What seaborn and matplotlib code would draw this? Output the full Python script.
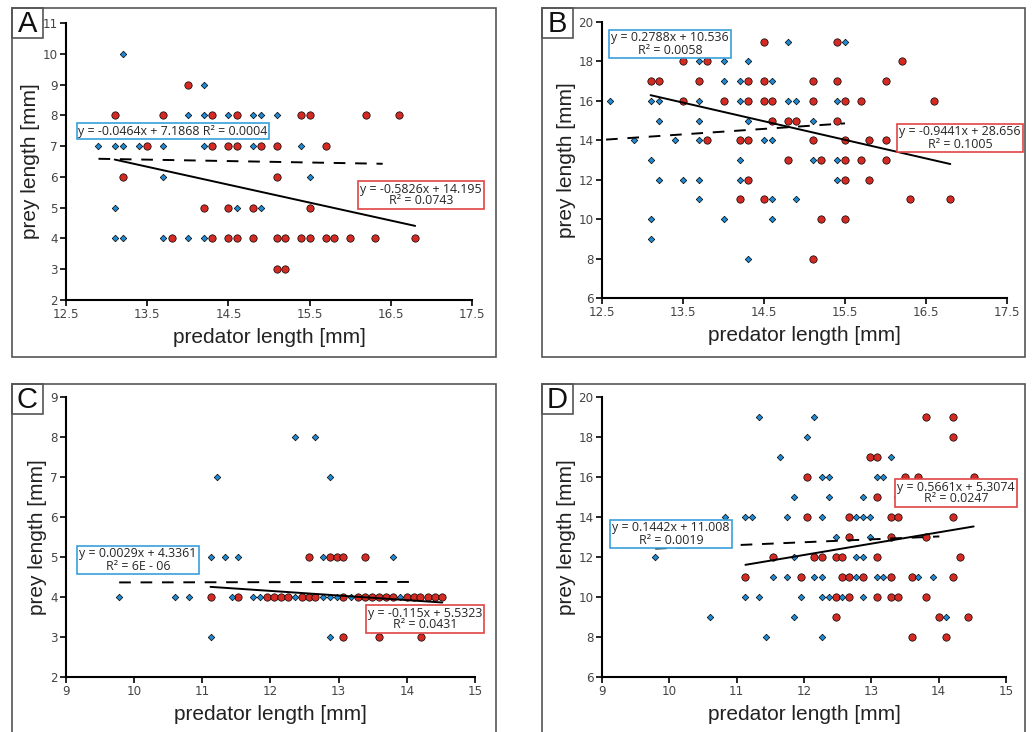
import numpy as np
import pandas as pd
import matplotlib
matplotlib.use("Agg")
import matplotlib.pyplot as plt
import seaborn as sns
from matplotlib.patches import Rectangle

# ==========================================
# 1. DONNEES
# ==========================================

# --- Panel A ---
a_blue_x = [13.2, 14.2,
            14.0, 14.2, 14.5, 14.8, 14.9, 15.1,
            12.9, 13.1, 13.2, 13.4, 13.7, 14.2, 14.8, 15.4,
            13.7, 15.5,
            13.1, 14.6, 14.9,
            13.1, 13.2, 13.7, 14.0, 14.2]
a_blue_y = [10, 9,
            8, 8, 8, 8, 8, 8,
            7, 7, 7, 7, 7, 7, 7, 7,
            6, 6,
            5, 5, 5,
            4, 4, 4, 4, 4]
a_red_x = [14.0,
           13.1, 13.7, 14.3, 14.6, 15.4, 15.5, 16.2, 16.6,
           13.5, 14.3, 14.5, 14.6, 14.9, 15.1, 15.7,
           13.2, 15.1,
           14.2, 14.5, 14.8, 15.5,
           13.8, 14.3, 14.5, 14.6, 14.8, 15.1, 15.2, 15.4, 15.5, 15.7, 15.8, 16.0, 16.3, 16.8,
           15.1, 15.2]
a_red_y = [9,
           8, 8, 8, 8, 8, 8, 8, 8,
           7, 7, 7, 7, 7, 7, 7,
           6, 6,
           5, 5, 5, 5,
           4, 4, 4, 4, 4, 4, 4, 4, 4, 4, 4, 4, 4, 4,
           3, 3]

# --- Panel B ---
b_blue_x = [14.8, 15.5,
            13.7, 14.0, 14.3,
            14.0, 14.2, 14.6,
            12.6, 13.1, 13.2, 13.7, 14.2, 14.8, 14.9, 15.4,
            13.2, 13.7, 14.3, 15.1,
            12.9, 13.4, 13.7, 14.5, 14.6,
            13.1, 14.2, 15.1, 15.4,
            13.2, 13.5, 13.7, 14.2, 15.4,
            13.7, 14.6, 14.9,
            13.1, 14.0, 14.6,
            13.1,
            14.3]
b_blue_y = [19, 19,
            18, 18, 18,
            17, 17, 17,
            16, 16, 16, 16, 16, 16, 16, 16,
            15, 15, 15, 15,
            14, 14, 14, 14, 14,
            13, 13, 13, 13,
            12, 12, 12, 12, 12,
            11, 11, 11,
            10, 10, 10,
            9,
            8]
b_red_x = [14.5, 15.4,
           13.5, 13.8, 16.2,
           13.1, 13.2, 13.7, 14.3, 14.5, 15.1, 15.4, 16.0,
           13.5, 14.0, 14.3, 14.5, 14.6, 15.1, 15.5, 15.7, 16.6,
           14.6, 14.8, 14.9, 15.4,
           13.8, 14.2, 14.3, 15.1, 15.5, 15.8, 16.0,
           14.8, 15.2, 15.5, 15.7, 16.0,
           14.3, 15.5, 15.8,
           14.2, 14.5, 16.3, 16.8,
           15.2, 15.5,
           15.1]
b_red_y = [19, 19,
           18, 18, 18,
           17, 17, 17, 17, 17, 17, 17, 17,
           16, 16, 16, 16, 16, 16, 16, 16, 16,
           15, 15, 15, 15,
           14, 14, 14, 14, 14, 14, 14,
           13, 13, 13, 13, 13,
           12, 12, 12,
           11, 11, 11, 11,
           10, 10,
           8]

# --- Panel C ---
c_blue_x = [12.36, 12.66,
            11.22, 12.87,
            11.12, 11.33, 11.53, 12.77, 13.80,
            9.78, 10.60, 10.81, 11.43, 11.74, 11.84, 12.36, 12.77, 12.87, 12.97, 13.18, 13.90,
            11.12, 12.87]
c_blue_y = [8, 8,
            7, 7,
            5, 5, 5, 5, 5,
            4, 4, 4, 4, 4, 4, 4, 4, 4, 4, 4, 4,
            3, 3]
c_red_x = [12.56, 12.87, 12.97, 13.07, 13.39,
           11.12, 11.53, 11.95, 12.05, 12.15, 12.25, 12.46, 12.56, 12.66, 13.07, 13.28,
           13.39, 13.49, 13.59, 13.69, 13.80, 14.0, 14.1, 14.2, 14.31, 14.42, 14.52,
           13.07, 13.59, 14.21]
c_red_y = [5, 5, 5, 5, 5,
           4, 4, 4, 4, 4, 4, 4, 4, 4, 4, 4,
           4, 4, 4, 4, 4, 4, 4, 4, 4, 4, 4,
           3, 3, 3]

# --- Panel D ---
d_blue_x = [11.33, 12.15,
            12.05,
            11.64, 13.29,
            12.26, 12.37, 13.08, 13.18,
            11.85, 12.37, 12.88,
            10.82, 11.13, 11.23, 11.75, 12.26, 12.77, 12.88, 12.98,
            12.47, 12.98,
            9.79, 11.85, 12.77, 12.88,
            11.54, 11.75, 12.15, 12.26, 12.77, 13.08, 13.18, 13.70, 13.91,
            11.13, 11.33, 11.96, 12.26, 12.37, 12.57, 12.88,
            10.61, 11.85, 14.11,
            11.44, 12.26]
d_blue_y = [19, 19,
            18,
            17, 17,
            16, 16, 16, 16,
            15, 15, 15,
            14, 14, 14, 14, 14, 14, 14, 14,
            13, 13,
            12, 12, 12, 12,
            11, 11, 11, 11, 11, 11, 11, 11, 11,
            10, 10, 10, 10, 10, 10, 10,
            9, 9, 9,
            8, 8]
d_red_x = [13.81, 14.22,
           14.22,
           12.98, 13.08,
           12.05, 13.50, 13.70, 14.52,
           13.08, 13.39,
           12.05, 12.67, 13.29, 13.39, 14.22,
           12.67, 13.29, 13.81,
           11.54, 12.15, 12.26, 12.47, 12.57, 13.08, 14.32,
           11.13, 11.96, 12.57, 12.67, 12.88, 13.29, 13.60, 14.22,
           12.47, 12.67, 13.08, 13.29, 13.39, 13.81,
           12.47, 14.01, 14.43,
           13.60, 14.11]
d_red_y = [19, 19,
           18,
           17, 17,
           16, 16, 16, 16,
           15, 15,
           14, 14, 14, 14, 14,
           13, 13, 13,
           12, 12, 12, 12, 12, 12, 12,
           11, 11, 11, 11, 11, 11, 11, 11,
           10, 10, 10, 10, 10, 10,
           9, 9, 9,
           8, 8]

# droites de tendance (pente, ordonnee, x debut, x fin)
blue_fit = {"A": (-0.0464, 7.1868, 12.9, 16.4), "B": (0.2788, 10.536, 12.55, 15.5),
            "C": (0.0029, 4.3361, 9.78, 14.1), "D": (0.1442, 11.008, 9.79, 14.01)}
red_fit = {"A": (-0.5826, 14.195, 13.1, 16.8), "B": (-0.9441, 28.656, 13.1, 16.8),
           "C": (-0.115, 5.5323, 11.12, 14.52), "D": (0.5661, 5.3074, 11.13, 14.52)}

blue_labels = {"A": "y = -0.0464x + 7.1868 R² = 0.0004",
               "B": "y = 0.2788x + 10.536\nR² = 0.0058",
               "C": "y = 0.0029x + 4.3361\nR² = 6E - 06",
               "D": "y = 0.1442x + 11.008\nR² = 0.0019"}
red_labels = {"A": "y = -0.5826x + 14.195\nR² = 0.0743",
              "B": "y = -0.9441x + 28.656\nR² = 0.1005",
              "C": "y = -0.115x + 5.5323\nR² = 0.0431",
              "D": "y = 0.5661x + 5.3074\nR² = 0.0247"}

x_ticks_top = [12.5, 13.5, 14.5, 15.5, 16.5, 17.5]
x_ticks_bottom = [9, 10, 11, 12, 13, 14, 15]
y_ticks = {"A": list(range(2, 12)), "B": list(range(6, 21, 2)),
           "C": list(range(2, 10)), "D": list(range(6, 21, 2))}

# ==========================================
# 2. MISE EN PAGE
# ==========================================
sns.set_style("ticks")
plt.rcParams['font.family'] = ['DejaVu Sans']

W, H = 1034, 732
BLUE = "#1e8ad4"
RED = "#d42a24"
BLUE_BOX = "#3a9fdc"
RED_BOX = "#e04444"


def px(x, y):
    return x / W, 1 - y / H


fig = plt.figure(figsize=(W / 100, H / 100), dpi=100)

panels = {
    # nom : (axes gauche, droite, haut, bas), cadre, x ticks, donnees, boites de texte
    "A": dict(ax=(66, 472, 23, 300), frame=(12, 8, 496, 357), xt=x_ticks_top,
              data=(a_blue_x, a_blue_y, a_red_x, a_red_y),
              bbox_blue=(173, 131), bbox_red=(421, 195)),
    "B": dict(ax=(602, 1007, 22, 298), frame=(542, 8, 1025, 357), xt=x_ticks_top,
              data=(b_blue_x, b_blue_y, b_red_x, b_red_y),
              bbox_blue=(670, 44), bbox_red=(960, 138)),
    "C": dict(ax=(66, 475, 397, 677), frame=(12, 384, 496, 745), xt=x_ticks_bottom,
              data=(c_blue_x, c_blue_y, c_red_x, c_red_y),
              bbox_blue=(138, 560), bbox_red=(425, 619)),
    "D": dict(ax=(602, 1006, 397, 677), frame=(542, 384, 1025, 745), xt=x_ticks_bottom,
              data=(d_blue_x, d_blue_y, d_red_x, d_red_y),
              bbox_blue=(671, 534), bbox_red=(956, 493)),
}

for name, p in panels.items():
    # cadre du panneau
    fx0, fy0, fx1, fy1 = p["frame"]
    fig.patches.append(Rectangle(px(fx0, fy1), (fx1 - fx0) / W, (fy1 - fy0) / H,
                                 transform=fig.transFigure, fill=False,
                                 edgecolor="#555555", linewidth=1.2, zorder=0))
    # lettre
    fig.patches.append(Rectangle(px(fx0, fy0 + 30), 31 / W, 30 / H,
                                 transform=fig.transFigure, fill=False,
                                 edgecolor="#555555", linewidth=1.2))
    fig.text(*px(fx0 + 15.5, fy0 + 16), name, ha="center", va="center",
             fontsize=21, family="Liberation Sans", color="#111111")

    l, r, t, b = p["ax"]
    ax = fig.add_axes([l / W, 1 - b / H, (r - l) / W, (b - t) / H])
    bx, by, rx, ry = p["data"]
    df = pd.concat([pd.DataFrame({"x": bx, "y": by, "grp": "blue"}),
                    pd.DataFrame({"x": rx, "y": ry, "grp": "red"})])

    sns.scatterplot(data=df[df.grp == "red"], x="x", y="y", marker="o", s=28,
                    color=RED, edgecolor="black", linewidth=0.5, ax=ax, zorder=3,
                    clip_on=False)
    sns.scatterplot(data=df[df.grp == "blue"], x="x", y="y", marker="D", s=11,
                    color=BLUE, edgecolor="black", linewidth=0.5, ax=ax, zorder=4,
                    clip_on=False)

    # droites de tendance
    m, c0, x0, x1 = blue_fit[name]
    xs = np.array([x0, x1])
    sns.lineplot(x=xs, y=m * xs + c0, ax=ax, color="black", linewidth=1.4,
                 linestyle=(0, (6, 5)), zorder=5)
    m, c0, x0, x1 = red_fit[name]
    xs = np.array([x0, x1])
    sns.lineplot(x=xs, y=m * xs + c0, ax=ax, color="black", linewidth=1.4,
                 zorder=5)

    xt = p["xt"]
    yt = y_ticks[name]
    ax.set_xlim(xt[0], xt[-1])
    ax.set_ylim(yt[0], yt[-1])
    ax.set_xticks(xt)
    ax.set_yticks(yt)
    ax.set_xticklabels([f"{v:g}" for v in xt])
    ax.tick_params(axis="both", direction="out", length=4, width=1.2,
                   labelsize=8.6, labelcolor="#444444", color="black", pad=2)
    sns.despine(ax=ax)
    for s in ("left", "bottom"):
        ax.spines[s].set_linewidth(1.5)
        ax.spines[s].set_color("black")
    ax.set_xlabel("predator length [mm]", fontsize=15, family="Liberation Sans",
                  color="#222222", labelpad=5)
    ax.set_ylabel("prey length [mm]", fontsize=15, family="Liberation Sans",
                  color="#222222", labelpad=2)
    ax.set_facecolor("none")

    # equations
    fig.text(*px(*p["bbox_blue"]), blue_labels[name], ha="center", va="center",
             fontsize=8.9, family="Open Sans", linespacing=0.9,
             bbox=dict(boxstyle="square,pad=0.15", facecolor="white",
                       edgecolor=BLUE_BOX, linewidth=1.2), zorder=10)
    fig.text(*px(*p["bbox_red"]), red_labels[name], ha="center", va="center",
             fontsize=8.9, family="Open Sans", linespacing=0.9,
             bbox=dict(boxstyle="square,pad=0.15", facecolor="white",
                       edgecolor=RED_BOX, linewidth=1.2), zorder=10)

fig.savefig("out.png", dpi=100, facecolor="white")
